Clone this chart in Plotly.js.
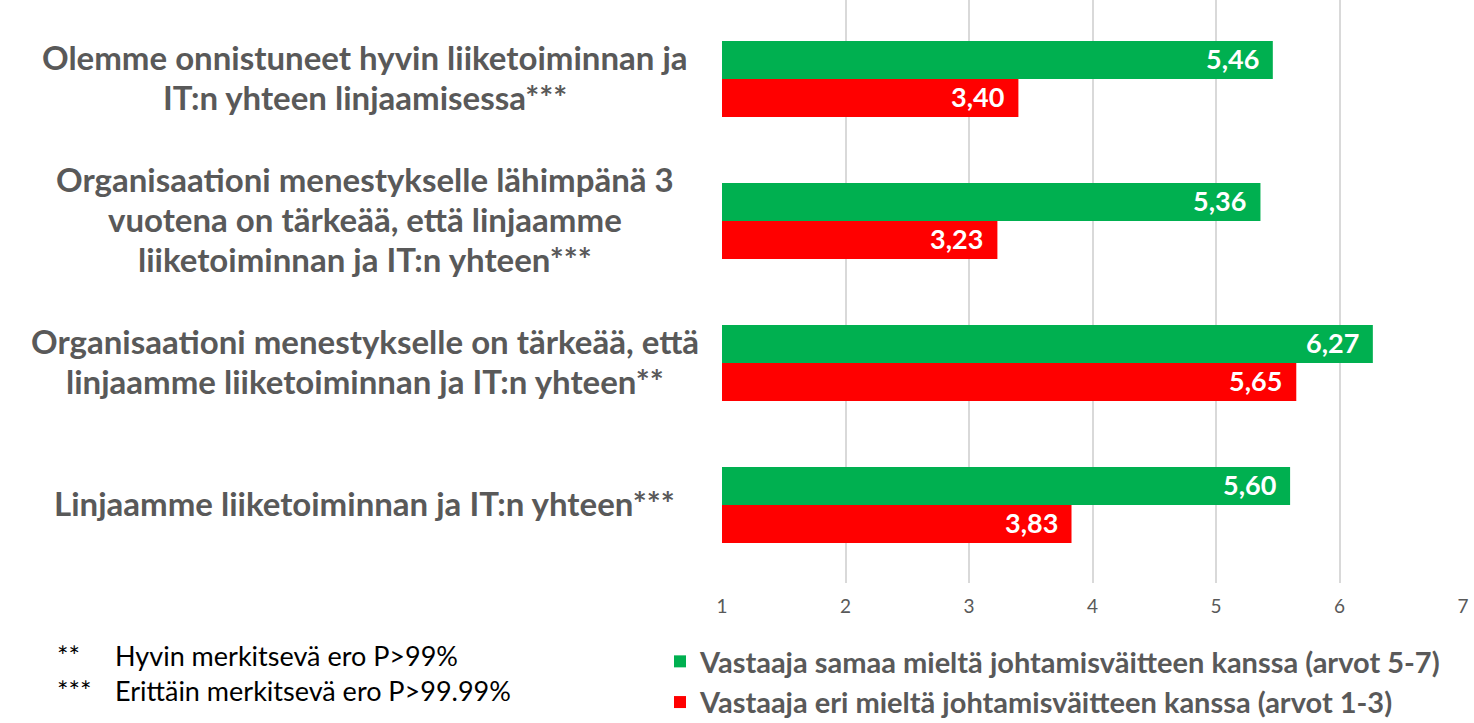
<!DOCTYPE html>
<html>
<head>
<meta charset="utf-8">
<script src="https://cdn.plot.ly/plotly-3.0.1.min.js"></script>
<style>html,body{margin:0;padding:0;background:#fff;}#chart{width:1474px;height:723px;}</style>
</head>
<body>
<div id="chart"></div>
<script>
const categories = [
  "Olemme onnistuneet hyvin liiketoiminnan ja<br>IT:n yhteen linjaamisessa***",
  "Organisaationi menestykselle lähimpänä 3<br>vuotena on tärkeää, että linjaamme<br>liiketoiminnan ja IT:n yhteen***",
  "Organisaationi menestykselle on tärkeää, että<br>linjaamme liiketoiminnan ja IT:n yhteen**",
  "Linjaamme liiketoiminnan ja IT:n yhteen***"
];
const seriesNames = [
  "Vastaaja samaa mieltä johtamisväitteen kanssa (arvot 5-7)",
  "Vastaaja eri mieltä johtamisväitteen kanssa (arvot 1-3)"
];
const agreeValues = [5.46, 5.36, 6.27, 5.60];
const disagreeValues = [3.40, 3.23, 5.65, 3.83];
const xTicks = [1, 2, 3, 4, 5, 6, 7];
const footnoteMarks = ["**", "***"];
const footnoteTexts = ["Hyvin merkitsevä ero P>99%", "Erittäin merkitsevä ero P>99.99%"];

const ids = categories.map((c, i) => i);
const GREEN = "#00B050", RED = "#FF0000", GRAY = "#595959";
const FONT = "Lato, 'Open Sans', sans-serif";

function barTrace(vals, name, color, grp) {
  return {
    type: "bar", orientation: "h", name: name,
    x: vals, y: ids, base: 1,
    marker: {color: color},
    legendgroup: grp,
    hoverinfo: "skip",
    cliponaxis: false
  };
}
// base=1 makes each bar start at 1; x values are stored as lengths from 1
const traces = [
  barTrace(agreeValues.map(v => v - 1), seriesNames[0], GREEN, "a"),
  barTrace(disagreeValues.map(v => v - 1), seriesNames[1], RED, "b")
];

const PLOT_H = 583;
const annotations = [];
const LINE_H = 40;
categories.forEach((c, i) => {
  const lines = c.split("<br>");
  lines.forEach((ln, k) => {
    annotations.push({
      xref: "paper", yref: "y", x: -0.482, y: i, xanchor: "center", yanchor: "middle",
      yshift: ((lines.length - 1) / 2 - k) * LINE_H + 2,
      text: "<b>" + ln + "</b>", align: "center", showarrow: false,
      font: {family: FONT, size: 33, color: GRAY}
    });
  });
});
[agreeValues, disagreeValues].forEach((vals, s) => {
  vals.forEach((v, i) => {
    annotations.push({
      xref: "x", yref: "y", x: v, y: i, xanchor: "right", yanchor: "middle",
      xshift: -12, yshift: s === 0 ? 20 : -18,
      text: "<b>" + v.toFixed(2).replace(".", ",") + "</b>", showarrow: false,
      font: {family: FONT, size: 27, color: "#ffffff"}
    });
  });
});
footnoteMarks.forEach((m, i) => {
  const yy = -(655 + i * 35 - PLOT_H) / PLOT_H;
  annotations.push({
    xref: "paper", yref: "paper", x: (55 - 722) / 741, y: yy,
    xanchor: "left", yanchor: "middle", text: m, showarrow: false,
    font: {family: FONT, size: 27, color: "#000000"}
  });
  annotations.push({
    xref: "paper", yref: "paper", x: (113 - 722) / 741, y: yy,
    xanchor: "left", yanchor: "middle", text: footnoteTexts[i], showarrow: false,
    font: {family: FONT, size: 27, color: "#000000"}
  });
});

const layout = {
  width: 1474, height: 723,
  margin: {l: 722, r: 11, t: 0, b: 140, autoexpand: false},
  barmode: "group", bargap: 0.465, bargroupgap: 0,
  paper_bgcolor: "#ffffff", plot_bgcolor: "#ffffff",
  xaxis: {
    range: [1, 7], tickvals: xTicks, ticktext: xTicks.map(String),
    showgrid: true, gridcolor: "#D9D9D9", gridwidth: 2,
    zeroline: false, showline: false, ticks: "", ticklabelstandoff: 10,
    tickfont: {family: FONT, size: 19, color: GRAY}, automargin: false
  },
  yaxis: {
    range: [3.55, -0.556], showticklabels: false, showgrid: false,
    zeroline: false, showline: false, ticks: "", automargin: false
  },
  showlegend: true,
  legend: {
    orientation: "v", x: (660 - 722) / 741, xanchor: "left",
    y: -(636 - PLOT_H) / PLOT_H, yanchor: "top",
    tracegroupgap: 14, traceorder: "normal",
    font: {family: FONT, size: 29, color: GRAY, weight: "bold"},
    bgcolor: "rgba(0,0,0,0)"
  },
  annotations: annotations
};

Plotly.newPlot("chart", traces, layout, {displayModeBar: false, staticPlot: true});
</script>
</body>
</html>
